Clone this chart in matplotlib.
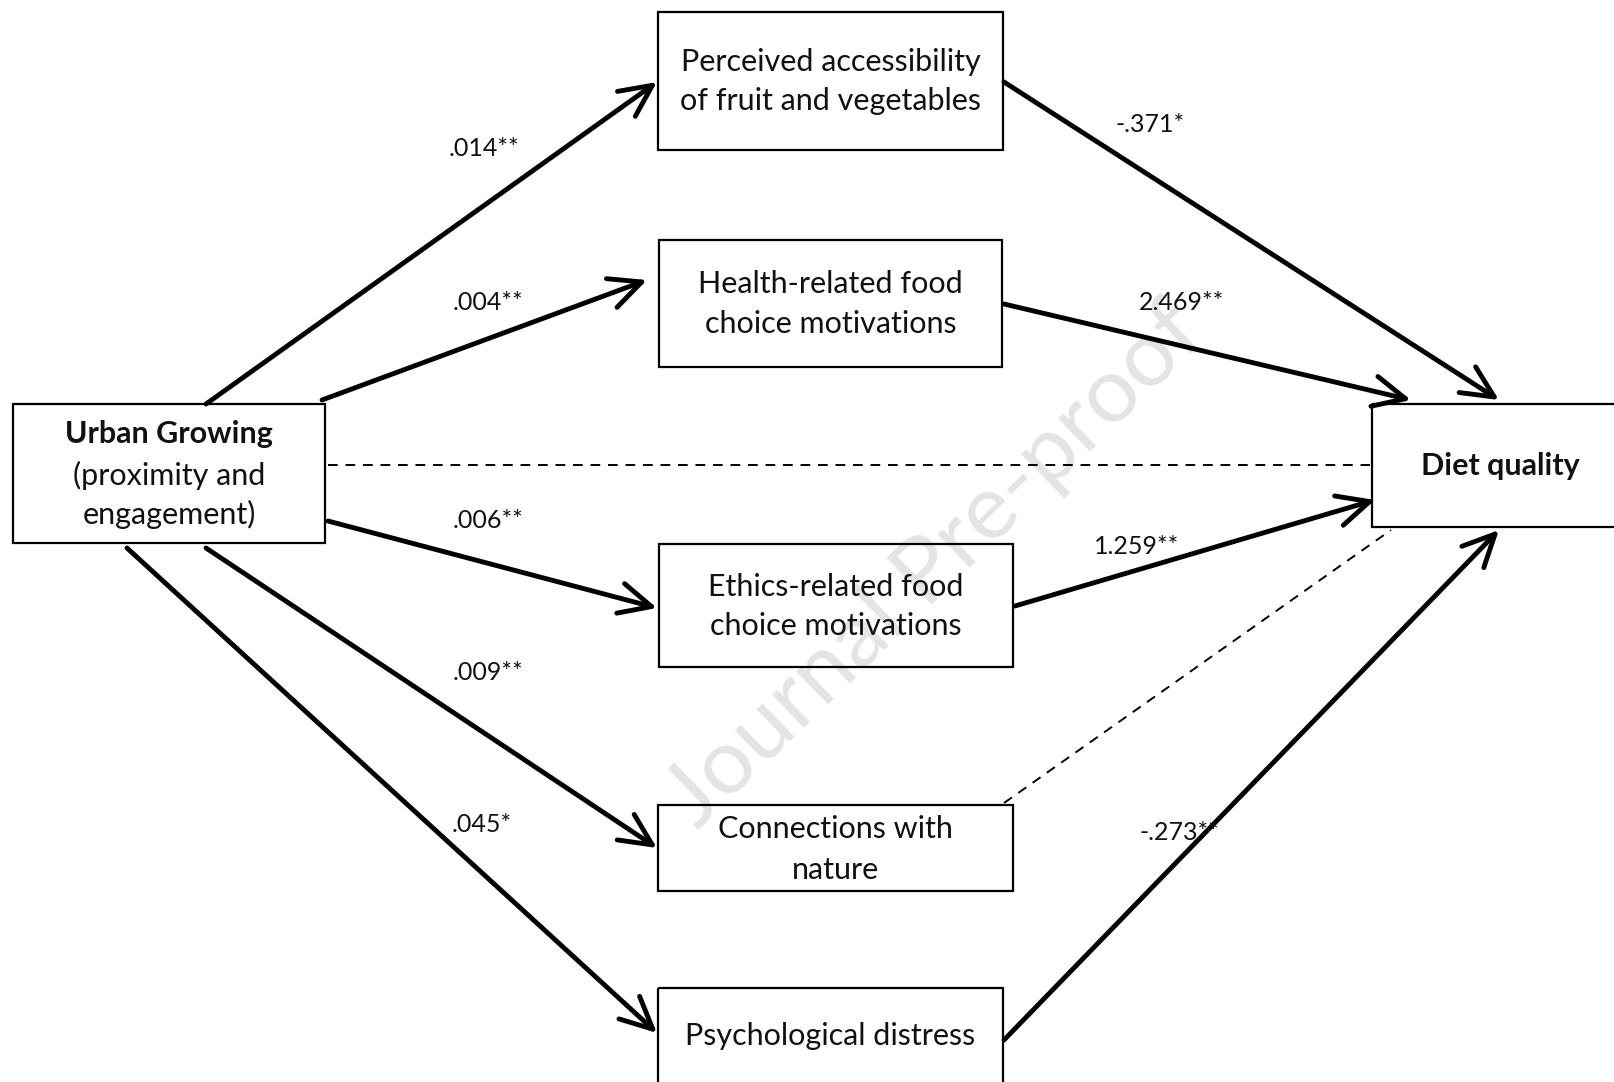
import matplotlib
matplotlib.use('Agg')
import matplotlib.pyplot as plt
from matplotlib.patches import Rectangle

plt.rcParams['font.family'] = ['Lato', 'DejaVu Sans']

# path model: node labels and coefficients
nodes = ['urban', 'perceived', 'health', 'ethics', 'connections', 'psych', 'diet']
node_text = {
    'urban': ['Urban Growing', '(proximity and', 'engagement)'],
    'perceived': ['Perceived accessibility', 'of fruit and vegetables'],
    'health': ['Health-related food', 'choice motivations'],
    'ethics': ['Ethics-related food', 'choice motivations'],
    'connections': ['Connections with', 'nature'],
    'psych': ['Psychological distress'],
    'diet': ['Diet quality'],
}
a_paths = ['perceived', 'health', 'ethics', 'connections', 'psych']
a_coefs = ['.014**', '.004**', '.006**', '.009**', '.045*']
b_paths = ['perceived', 'health', 'ethics', 'psych']
b_coefs = ['-.371*', '2.469**', '1.259**', '-.273**']
ns_paths = ['urban', 'connections']   # dashed, non-significant to diet
watermark = 'Journal Pre-proof'

# layout in pixels (x0, y0, x1, y1), y downward
box = {
    'urban': (13, 404, 325, 543),
    'perceived': (658, 12, 1003, 150),
    'health': (659, 240, 1002, 367),
    'ethics': (659, 544, 1013, 667),
    'connections': (658, 805, 1013, 891),
    'psych': (658, 988, 1003, 1100),
    'diet': (1372, 404, 1640, 527),
}
text_y = {'urban': [434, 475, 514], 'perceived': [62, 101], 'health': [284, 324],
          'ethics': [587, 626], 'connections': [829, 870], 'psych': [1036], 'diet': [466]}
a_line = {'perceived': ((206, 404), (657, 82)), 'health': ((322, 400), (647, 280)),
          'ethics': ((328, 521), (657, 608)), 'connections': ((206, 548), (657, 848)),
          'psych': ((127, 548), (657, 1033))}
b_line = {'perceived': ((1004, 82), (1499, 400)), 'health': ((1004, 304), (1411, 400)),
          'ethics': ((1015, 606), (1375, 500)), 'psych': ((1004, 1040), (1499, 530))}
ns_line = {'urban': ((328, 465), (1370, 465)), 'connections': ((1004, 803), (1391, 530))}
a_lab = {'perceived': (484, 149), 'health': (488, 303), 'ethics': (488, 521),
         'connections': (488, 672), 'psych': (482, 824)}
b_lab = {'perceived': (1150, 125), 'health': (1182, 303), 'ethics': (1137, 547), 'psych': (1179, 832)}

W, H = 1615, 1082
fig = plt.figure(figsize=(W / 100, H / 100), dpi=100)
ax = fig.add_axes([0, 0, 1, 1])
ax.set_xlim(0, W); ax.set_ylim(H, 0); ax.axis('off')

ax.text(935, 566, watermark, rotation=44, fontsize=66, color='#e4e4e4',
        ha='center', va='center', zorder=0)

for n in nodes:
    x0, y0, x1, y1 = box[n]
    ax.add_patch(Rectangle((x0, y0), x1 - x0, y1 - y0, fill=True, fc='none', ec='black', lw=1.6, zorder=2))
    cx = (x0 + x1) / 2 if n != 'diet' else 1500
    for i, (t, y) in enumerate(zip(node_text[n], text_y[n])):
        bold = (n == 'diet') or (n == 'urban' and i == 0)
        ax.text(cx, y, t, ha='center', va='center', fontsize=22,
                fontweight='bold' if bold else 'normal', color='#111111', zorder=3)

ap = dict(arrowstyle='->,head_length=1.15,head_width=0.55', lw=3.5, color='black',
          shrinkA=0, shrinkB=0, mutation_scale=20)
for n, c in zip(a_paths, a_coefs):
    (xa, ya), (xb, yb) = a_line[n]
    ax.annotate('', xy=(xb, yb), xytext=(xa, ya), arrowprops=ap, zorder=2)
    ax.text(*a_lab[n], c, ha='center', va='center', fontsize=18, color='#111111', zorder=3)
for n, c in zip(b_paths, b_coefs):
    (xa, ya), (xb, yb) = b_line[n]
    ax.annotate('', xy=(xb, yb), xytext=(xa, ya), arrowprops=ap, zorder=2)
    ax.text(*b_lab[n], c, ha='center', va='center', fontsize=18, color='#111111', zorder=3)
for n in ns_paths:
    (xa, ya), (xb, yb) = ns_line[n]
    ax.plot([xa, xb], [ya, yb], color='black', lw=1.4, ls=(0, (5, 4)), zorder=2)

fig.savefig('out.png', dpi=100, facecolor='white')
